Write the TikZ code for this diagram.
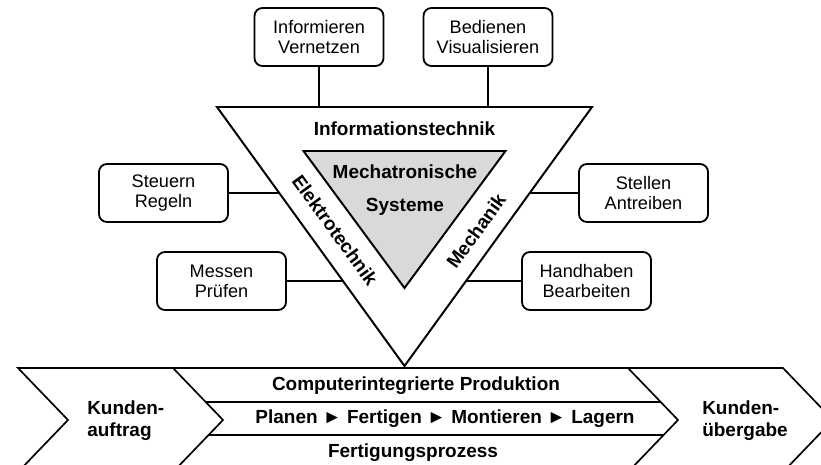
\documentclass[tikz,border=0pt]{standalone}
\usepackage{fontspec}
\setmainfont{Liberation Sans}
\usepackage{tikz}
\usepackage{xcolor}
\usetikzlibrary{calc}
\definecolor{MechaGray}{HTML}{D9D9D9}
\newcommand{\taskfont}{\fontsize{12.9}{14.4}\selectfont}
\newcommand{\fieldfont}{\fontsize{13.5}{15.8}\bfseries\selectfont}

\tikzset{
  taskbox/.style={draw, line width=1.3pt, rounded corners=0.2cm, fill=white, minimum width=3.225cm, minimum height=1.45cm, inner sep=0pt, align=center, font=\taskfont},
  fieldlabel/.style={inner sep=0pt, font=\fieldfont},
  link/.style={line width=1pt},
  outline/.style={line width=1.4pt, line join=miter},
  chevron/.style={line width=1.2pt, line join=miter}
}

\begin{document}
\begin{tikzpicture}[x=0.025cm, y=-0.025cm]
    \useasboundingbox (0,0) rectangle (821,465);

    % Corners of the two triangles
    \coordinate (otl) at (217,107);
    \coordinate (otr) at (592,107);
    \coordinate (ob) at (404.5,366);
    \coordinate (itl) at (303.5,151);
    \coordinate (itr) at (505.5,151);
    \coordinate (ib) at (404.5,288);

    \draw[outline, fill=white] (otl) -- (otr) -- (ob) -- cycle;
    \draw[outline, fill=MechaGray] (itl) -- (itr) -- (ib) -- cycle;

    % Labels inside the triangle
    \node[fieldlabel] (infotech) at (404.5,129) {Informationstechnik};
    \node[fieldlabel, align=center] (mechsys) at (405,190) {Mechatronische\\[0.28cm]Systeme};
    \node[fieldlabel, rotate=-54] (elektro) at (335,230) {Elektrotechnik};
    \node[fieldlabel, rotate=54] (mechanik) at (476,231) {Mechanik};

    % Task boxes around the triangle
    \node[taskbox] (inform) at (319,37) {Informieren\\Vernetzen};
    \node[taskbox] (bedien) at (488,37) {Bedienen\\Visualisieren};
    \node[taskbox] (steuern) at (163.5,193) {Steuern\\Regeln};
    \node[taskbox] (messen) at (221.5,281) {Messen\\Prüfen};
    \node[taskbox] (stellen) at (643.5,193) {Stellen\\Antreiben};
    \node[taskbox] (handhab) at (586.5,281) {Handhaben\\Bearbeiten};

    % Points where the side links meet the triangle
    \coordinate (eL1) at (279.3,193);
    \coordinate (eL2) at (343,281);
    \coordinate (eR1) at (529.7,193);
    \coordinate (eR2) at (466,281);

    \draw[link] (inform) -- (inform |- otl);
    \draw[link] (bedien) -- (bedien |- otl);
    \draw[link] (steuern) -- (eL1);
    \draw[link] (messen) -- (eL2);
    \draw[link] (stellen) -- (eR1);
    \draw[link] (handhab) -- (eR2);

    % Process chevrons
    \draw[chevron] (18,368) -- (783,368) -- (833,420) -- (783,472) -- (18,472) -- (68,420) -- cycle;
    \draw[chevron] (173,368) -- (223,420) -- (173,472);
    \draw[chevron] (628,368) -- (678,420) -- (628,472);
    \draw[chevron] (205.7,402) -- (660.7,402);
    \draw[chevron] (208.6,435) -- (663.6,435);

    \node[fieldlabel] (cim) at (416,386) {Computerintegrierte Produktion};
    \node[fieldlabel] (steps) at (445,419) {Planen ► Fertigen ► Montieren ► Lagern};
    \node[fieldlabel] (fprozess) at (413,453) {Fertigungsprozess};
    \node[fieldlabel, anchor=west, align=left] (auftrag) at (87,421) {Kunden-\\auftrag};
    \node[fieldlabel, anchor=west, align=left] (uebergabe) at (702,421) {Kunden-\\übergabe};
\end{tikzpicture}
\end{document}
